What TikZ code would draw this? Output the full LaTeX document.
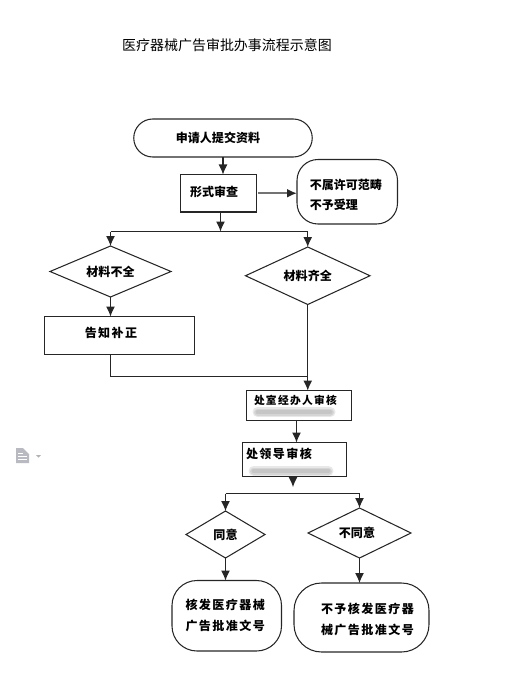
\documentclass[tikz,border=0pt]{standalone}
\usepackage{fontspec}
\setmainfont{Noto Sans CJK SC}
\newfontfamily\cjkwide[LetterSpace=12]{Noto Sans CJK SC}
\usetikzlibrary{shapes.geometric, arrows.meta, positioning}
\newcommand{\boxfont}{\fontsize{6.85}{11}\selectfont\bfseries}
\newcommand{\widefont}{\cjkwide\fontsize{6.85}{12}\selectfont\bfseries}
\tikzset{
  flowline/.style={line width=0.6pt, black!85},
  arrow/.style={flowline, -{Latex[length=0.2cm, width=0.18cm]}},
  greyarrow/.style={arrow, line width=1.1pt, black!55, -{Latex[length=0.2cm, width=0.18cm, black!85]}},
  mainbox/.style={draw=black!85, line width=0.6pt, rectangle, outer sep=0pt, inner sep=0pt, font=\boxfont},
  roundbox/.style={mainbox, rounded corners=0.38cm, align=left, inner ysep=0pt},
  checkbox/.style={diamond, draw=black!85, line width=0.6pt, aspect=2, inner sep=0pt, outer sep=0pt, font=\boxfont},
  blurbar/.style={gray, opacity=0.18, line cap=round}
}
\begin{document}
\begin{tikzpicture}
  \useasboundingbox (0,0) rectangle (10.2,-13.86);
  \node[font=\fontsize{7.95}{10}\selectfont] (title) at (4.54,-0.9) {医疗器械广告审批办事流程示意图};
  \node[mainbox, rounded corners=0.38cm, minimum width=3.57cm, minimum height=0.76cm] (start) at (4.46,-2.76)
        {\hspace*{-0.2cm}\raisebox{-1pt}{申请人提交资料}};
  \node[mainbox, minimum width=1.52cm, minimum height=0.75cm, below=0.35cm of start, xshift=-0.09cm,
        align=left, text width=1.14cm, inner xsep=0.19cm] (formal) {\raisebox{2.5pt}{形式审查}};
  \node[roundbox, minimum width=2.01cm, minimum height=1.29cm, right=0.81cm of formal, yshift=0.03cm,
        text width=1.5cm, inner xsep=0.255cm, rounded corners=0.42cm] (reject)
        {\rule{0pt}{9.5pt}不属许可范畴\\不予受理};
  \coordinate[below=0.39cm of formal, xshift=0.04cm] (splita);
  \node[checkbox, minimum width=2.42cm, minimum height=1.02cm, below=0.29cm of splita, xshift=-2.2cm] (lack)
        {\raisebox{-0.5pt}{材料不全}};
  \node[checkbox, minimum width=2.49cm, minimum height=1.15cm, below=0.31cm of splita, xshift=1.745cm] (pass) {材料齐全};
  \node[mainbox, minimum width=3cm, minimum height=0.76cm, below=0.39cm of lack, xshift=0.18cm, font=\widefont] (notify)
        {\hspace*{-0.34cm}\raisebox{3.2pt}{告知补正}};
  \coordinate (merge) at ([yshift=-0.44cm]notify.south -| pass.south);
  \node[mainbox, minimum width=2.1cm, minimum height=0.6cm, below=1.72cm of pass, xshift=-0.175cm,
        align=left, text width=1.8cm, inner xsep=0.15cm, font=\cjkwide\fontsize{6.1}{8}\selectfont\bfseries] (office)
        {\raisebox{6.7pt}{处室经办人审核}};
  \node[mainbox, minimum width=2.08cm, minimum height=0.68cm, below=0.44cm of office, xshift=-0.09cm,
        align=left, text width=1.94cm, inner xsep=0.07cm, font=\widefont] (leader)
        {\raisebox{7pt}{处领导审核}};
  \coordinate (tipb) at ([xshift=-0.03cm, yshift=-0.21cm]leader.south);
  \coordinate (splitb) at ([yshift=-0.34cm]leader.south);
  \node[checkbox, minimum width=1.58cm, minimum height=0.94cm, below=0.35cm of splitb, xshift=-1.38cm] (agree)
        {\raisebox{-0.5pt}{同意}};
  \node[checkbox, minimum width=2.06cm, minimum height=1cm, below=0.29cm of splitb, xshift=1.3cm] (refuse)
        {\hspace*{-0.1cm}\raisebox{-1pt}{不同意}};
  \node[roundbox, minimum width=2.19cm, minimum height=1.41cm, below=0.45cm of agree, xshift=0.025cm,
        text width=1.65cm, inner xsep=0.27cm, rounded corners=0.5cm, font=\widefont] (issue)
        {核发医疗器械\\\boxfont 广告批准文号};
  \node[roundbox, minimum width=2.7cm, minimum height=1.38cm, below=0.5cm of refuse, xshift=0.04cm,
        text width=2.1cm, inner xsep=0.3cm, rounded corners=0.55cm, font=\widefont] (deny)
        {\rule{0pt}{7.7pt}\hspace*{0.24cm}不予核发医疗器\\\hspace*{0.24cm}\boxfont 械广告批准文号};
  \draw[arrow] (start.south) -- (start.south |- formal.north);
  \draw[greyarrow] ([xshift=0.03cm]formal.east) -- (formal.east -| reject.west);
  \draw[arrow] ([xshift=0.04cm]formal.south) -- (splita);
  \draw[flowline] (lack.north |- splita) -- (pass.north |- splita);
  \draw[arrow] (lack.north |- splita) -- (lack.north);
  \draw[arrow] (pass.north |- splita) -- (pass.north);
  \draw[arrow] (lack.south) -- (lack.south |- notify.north);
  \draw[flowline] (notify.south -| lack.south) |- (merge);
  \draw[arrow] (pass.south) -- (pass.south |- office.north);
  \draw[arrow] ([xshift=-0.05cm]office.south) -- ([xshift=-0.05cm]office.south |- leader.north);
  \draw[arrow] ([xshift=-0.03cm]leader.south) -- (tipb);
  \draw[flowline] (agree.north |- splitb) -- (refuse.north |- splitb);
  \draw[arrow] (agree.north |- splitb) -- (agree.north);
  \draw[arrow] (refuse.north |- splitb) -- (refuse.north);
  \draw[arrow] (agree.south) -- (agree.south |- issue.north);
  \draw[arrow] (refuse.south) -- (refuse.south |- deny.north);
  \foreach \w in {0.2,0.14,0.08} {
    \draw[blurbar, line width=\w cm] ([xshift=0.22cm, yshift=0.17cm]office.south west) -- ([xshift=1.68cm, yshift=0.17cm]office.south west);
    \draw[blurbar, line width=\w cm] ([xshift=0.22cm, yshift=0.11cm]leader.south west) -- ([xshift=1.72cm, yshift=0.11cm]leader.south west);
  }
  \fill[black!25!blue!10!gray!50] (0.32,-8.96) -- (0.46,-8.96) -- (0.58,-9.08) -- (0.58,-9.26) -- (0.32,-9.26) -- cycle;
  \draw[white, line width=0.4pt] (0.36,-9.06) -- (0.46,-9.06) (0.36,-9.12) -- (0.54,-9.12) (0.36,-9.18) -- (0.54,-9.18);
  \fill[gray!60] (0.72,-9.10) -- (0.82,-9.10) -- (0.77,-9.15) -- cycle;
\end{tikzpicture}
\end{document}
